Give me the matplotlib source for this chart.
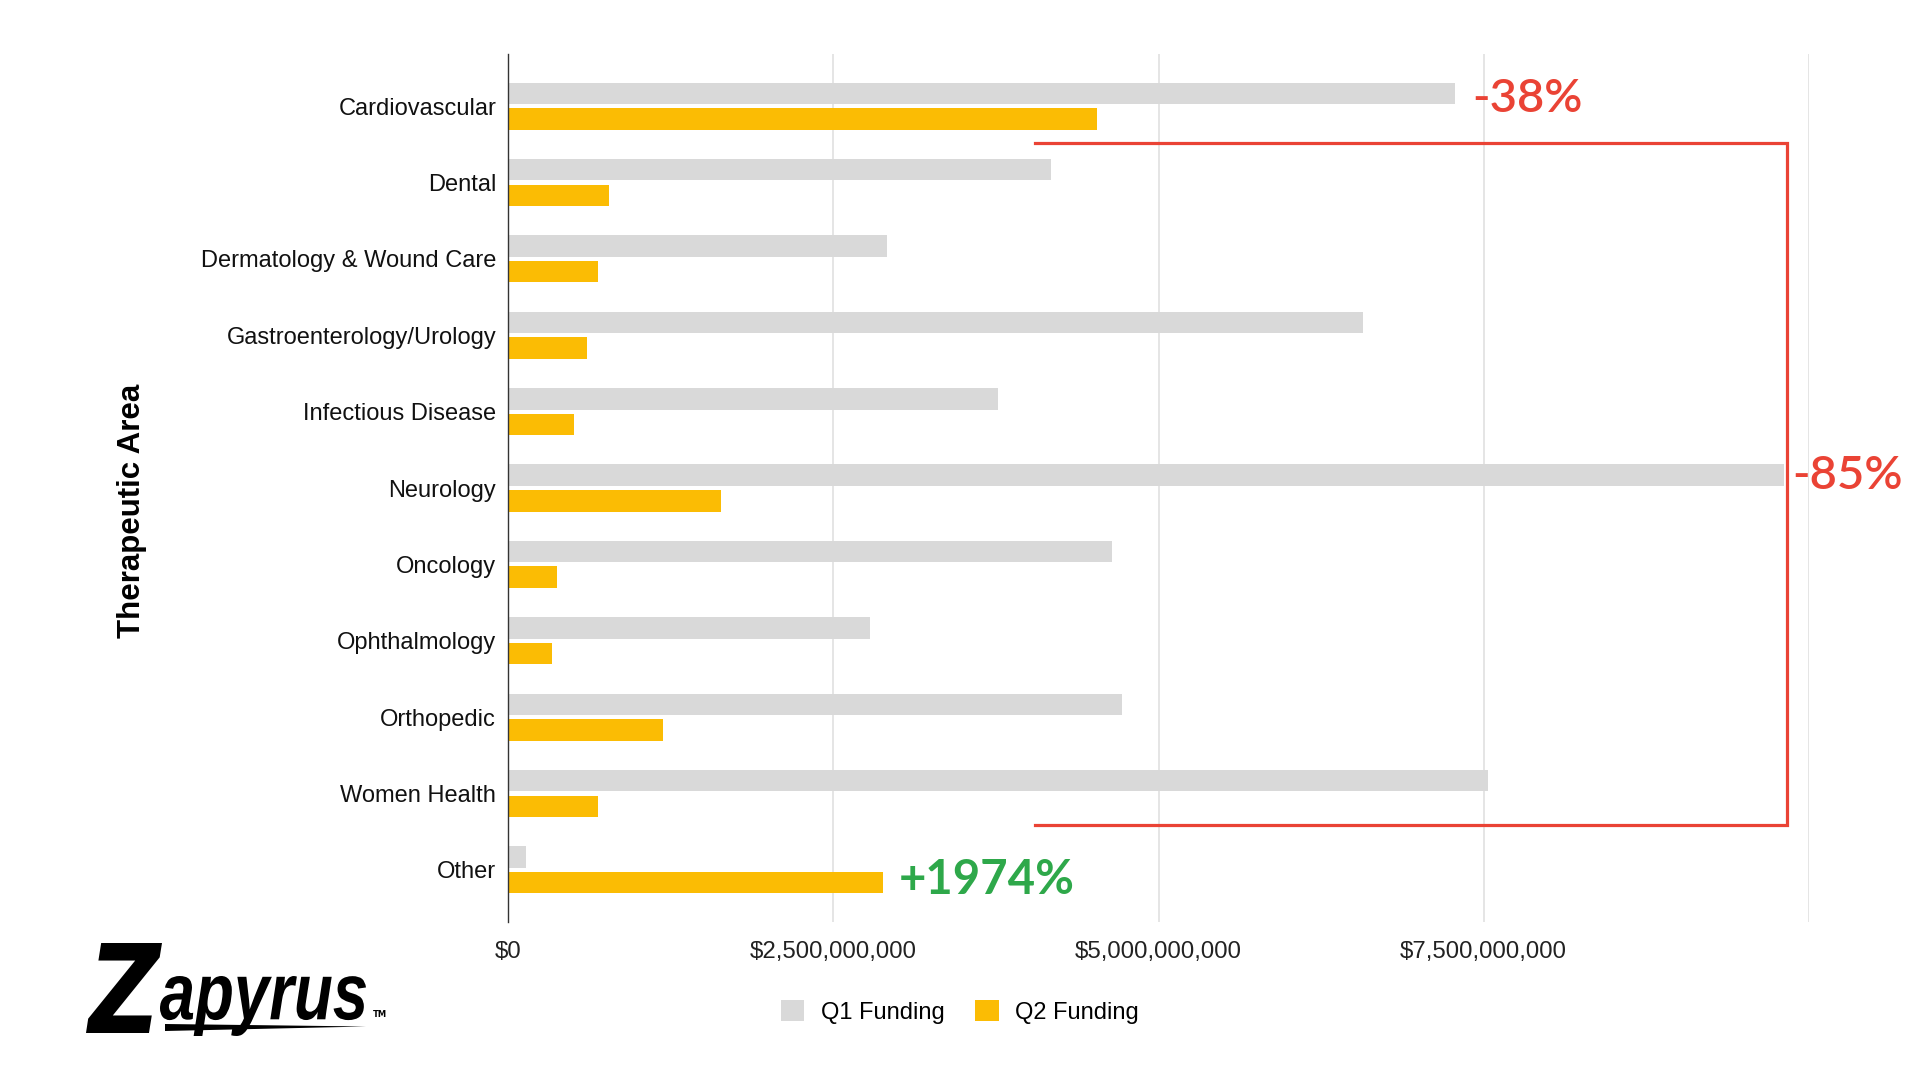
import numpy as np
import matplotlib
matplotlib.use('Agg')
import matplotlib.pyplot as plt
from matplotlib.textpath import TextPath
from matplotlib.patches import PathPatch, Polygon
from matplotlib.font_manager import FontProperties
from matplotlib.transforms import Affine2D

# data (funding in billions of dollars)
areas = ['Cardiovascular', 'Dental', 'Dermatology & Wound Care', 'Gastroenterology/Urology',
         'Infectious Disease', 'Neurology', 'Oncology', 'Ophthalmology', 'Orthopedic',
         'Women Health', 'Other']
q1_funding = [7.28, 4.17, 2.91, 6.57, 3.77, 9.81, 4.64, 2.78, 4.72, 7.53, 0.14]
q2_funding = [4.53, 0.78, 0.69, 0.61, 0.51, 1.64, 0.38, 0.34, 1.19, 0.69, 2.88]
x_ticks = [0, 2.5e9, 5e9, 7.5e9, 10e9]
x_labels = ['$0', '$2,500,000,000', '$5,000,000,000', '$7,500,000,000', '']
label_top = '-38%'
label_mid = '-85%'
label_other = '+1974%'

q1 = np.array(q1_funding) * 1e9
q2 = np.array(q2_funding) * 1e9
pos = np.arange(len(areas))

W, H = 1920, 1080
fig = plt.figure(figsize=(19.2, 10.8), dpi=100)
ax = fig.add_axes([508 / W, 1 - 922 / H, (1809 - 508) / W, (922 - 54) / H])

gray = '#d9d9d9'
yellow = '#fbbc04'
red = '#ea4335'
green = '#2ea84a'

bh = 0.28
ax.barh(pos - 0.168, q1, height=bh, color=gray, label='Q1 Funding', zorder=2)
ax.barh(pos + 0.168, q2, height=bh, color=yellow, label='Q2 Funding', zorder=2)

ax.set_xlim(0, 10e9)
ax.set_ylim(10.684, -0.684)
ax.set_xticks(x_ticks)
ax.set_xticklabels(x_labels, fontsize=17.3, family='Liberation Sans', color='#222222')
ax.set_yticks(pos)
ax.set_yticklabels(areas, fontsize=17, family='Liberation Sans', color='#111111')
ax.tick_params(axis='both', length=0)
ax.tick_params(axis='y', pad=8.5)
ax.tick_params(axis='x', pad=14)
ax.grid(axis='x', color='#e0e0e0', lw=1.2, zorder=0)
for s in ['top', 'right', 'bottom']:
    ax.spines[s].set_visible(False)
ax.spines['left'].set_color('#333333')
ax.spines['left'].set_linewidth(1)
ax.spines['left'].set_zorder(3)

# annotations
ax.text(q1[0] + 0.13e9, -0.09, label_top, color=red, fontsize=34, family='Lato',
        weight='semibold', ha='left', va='center')
bx = q1[1:10].max() + 0.02e9
ax.plot([4.05e9, bx, bx, 4.05e9], [0.48, 0.48, 9.42, 9.42], color=red, lw=2.3,
        clip_on=False, zorder=4, solid_joinstyle='miter')
ax.text(bx + 0.04e9, 4.84, label_mid, color=red, fontsize=34, family='Lato',
        weight='semibold', ha='left', va='center', clip_on=False)
ax.text(q2[10] + 0.12e9, 10.13, label_other, color=green, fontsize=34, family='Lato',
        weight='bold', ha='left', va='center')

fig.text(132 / W, 1 - 511 / H, 'Therapeutic Area', rotation=90, fontsize=22.5,
         weight='bold', family='Liberation Sans', ha='center', va='center')

fig.legend(loc='center', bbox_to_anchor=(0.5, 1 - 1012 / H), ncol=2, frameon=False,
           prop={'family': 'Liberation Sans', 'size': 17}, handlelength=1.0,
           handleheight=1.0, handletextpad=0.7, columnspacing=1.3)


# logo
def text_in_box(s, prop, x0, y0, x1, y1):
    tp = TextPath((0, 0), s, size=100, prop=prop)
    bb = tp.get_extents()
    tr = (Affine2D().translate(-bb.x0, -bb.y0)
          .scale((x1 - x0) / bb.width, (y1 - y0) / bb.height)
          .translate(x0, H - y1).scale(1 / W, 1 / H))
    fig.add_artist(PathPatch(tr.transform_path(tp), facecolor='black', edgecolor='none',
                             transform=fig.transFigure))


z_font = FontProperties(family='DejaVu Sans', weight='bold', style='oblique')
logo_font = FontProperties(family='Liberation Sans', weight='bold', style='italic')
text_in_box('Z', z_font, 86, 943, 162, 1033)
text_in_box('apyrus', logo_font, 160, 976, 366, 1036)
fig.add_artist(Polygon([(165 / W, 1 - 1024 / H), (366 / W, 1 - 1026.5 / H), (165 / W, 1 - 1031 / H)],
                       closed=True, facecolor='black', edgecolor='none', transform=fig.transFigure))
fig.text(373 / W, 1 - 1017 / H, 'TM', fontsize=6, weight='bold', family='DejaVu Sans')

fig.savefig('out.png', dpi=100, facecolor='white')
